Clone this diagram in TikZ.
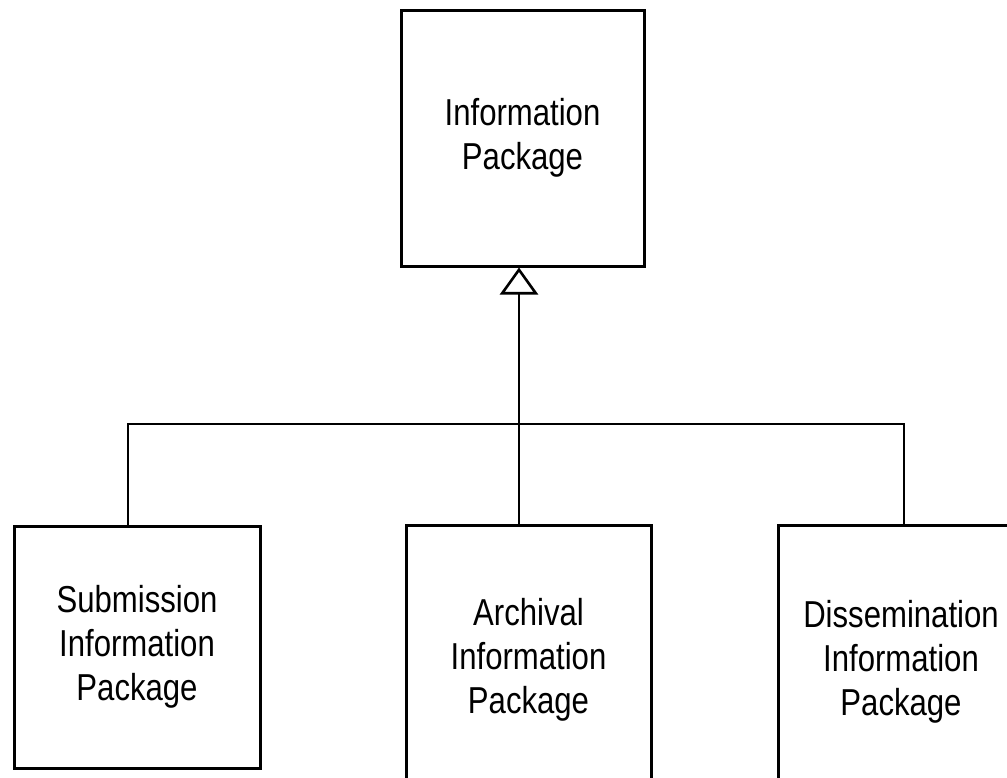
\documentclass[tikz,border=0pt]{standalone}
\usepackage{fontspec}
\newfontfamily\narrowsans[FakeStretch=0.83]{Liberation Sans}
\usetikzlibrary{arrows.meta}
\begin{document}
\begin{tikzpicture}[x=1pt,y=-1pt,
  box/.style={draw=black, line width=3pt, rectangle, inner sep=0pt, align=center,
    font=\narrowsans\fontsize{37.5}{44}\selectfont},
  link/.style={draw=black, line width=2.2pt},
  gen/.style={link, -{Triangle[open,length=27pt,width=38pt,line width=2.6pt]}}]
\fill[white] (0,0) rectangle (1007,777);
\useasboundingbox (0,0) rectangle (1007,777);
\node[box, minimum width=243pt, minimum height=256pt] (ip) at (522.5,138) {Information\\Package};
\node[box, minimum width=246pt, minimum height=242pt] (sip) at (137,647) {Submission\\Information\\Package};
\node[box, minimum width=245pt, minimum height=270pt] (aip) at (528.5,660) {Archival\\Information\\Package};
\node[box, minimum width=246pt, minimum height=274pt] (dip) at (901,662) {Dissemination\\Information\\Package};
\coordinate (a1) at ([xshift=-9.5pt]aip.north);
\draw[gen] (a1) -- (a1 |- ip.south);
\draw[link] (sip.north -| 128,0) -- (128,424) -- (904,424) -- (dip.north -| 904,0);
\end{tikzpicture}
\end{document}
